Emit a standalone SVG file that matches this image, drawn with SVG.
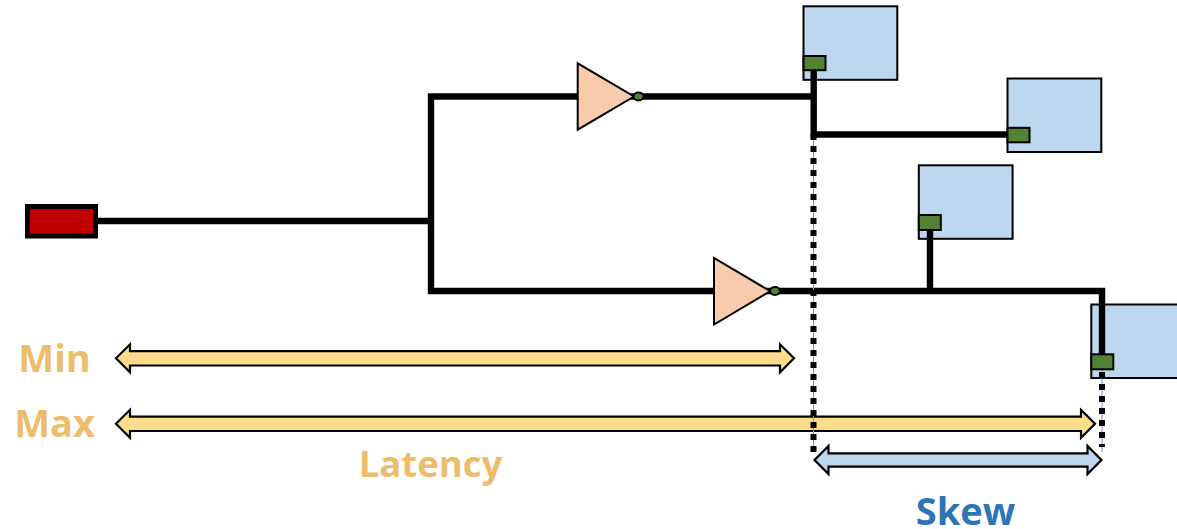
<svg xmlns="http://www.w3.org/2000/svg" width="1177" height="529" viewBox="0 0 1177 529">
<style>
.w{fill:none;stroke:#000;stroke-width:6.4}
.guide{fill:none;stroke:#6f94d6;stroke-width:1}
.box{fill:#bdd7ee;stroke:#000;stroke-width:2}
.pin{fill:#548235;stroke:#000;stroke-width:2}
.inv{fill:#f8cbad;stroke:#000;stroke-width:2}
.bub{fill:#548235;stroke:#000;stroke-width:2}
.arr{stroke:#000;stroke-width:2.2;stroke-linejoin:miter}
.lab{font-family:"Open Sans","Noto Sans",sans-serif;font-weight:700;font-size:38px;fill:#eebd6c;text-anchor:middle}
</style>
<g id="box1"><rect class="box" x="803.5" y="6.3" width="93.8" height="73.5"/></g>
<g id="box2"><rect class="box" x="1007.5" y="78.5" width="93.8" height="73.5"/></g>
<g id="box3"><rect class="box" x="918.8" y="165.3" width="93.8" height="73.5"/></g>
<g id="box4"><rect class="box" x="1091.3" y="304.5" width="93.8" height="73.5"/></g>
<g id="connectors">
<path class="w" d="M98 221H431M431 94V294M428 96.5H816.500M428 291H1105M813.700 70V137M813.700 134.500H1008M930 230V291M1102 288V356"/>
</g>
<g id="inverter1"><path class="inv" d="M577.700 63.300V129.700L634 96.500Z"/><ellipse class="bub" cx="638.500" cy="96.500" rx="5" ry="4"/></g>
<g id="inverter2"><path class="inv" d="M714 258V324.500L770.300 291.200Z"/><ellipse class="bub" cx="775" cy="291" rx="5" ry="4"/></g>
<g id="pin1"><rect class="pin" x="803.500" y="56" width="22" height="14.200"/></g>
<g id="pin2"><rect class="pin" x="1007.500" y="127.800" width="22" height="14.500"/></g>
<g id="pin3"><rect class="pin" x="918.800" y="215" width="22" height="15"/></g>
<g id="pin4"><rect class="pin" x="1091.300" y="354.300" width="22" height="15"/></g>
<g id="source"><rect x="27.500" y="206.500" width="68" height="29.500" fill="#c00000" stroke="#000" stroke-width="5"/></g>
<g id="minArrow"><path class="arr" fill="#ffdc8c" d="M116 358.300L130 344.300V351.200H780V344.300L794 358.300L780 372.300V365.500H130V372.300Z"/></g>
<g id="maxArrow"><path class="arr" fill="#ffdc8c" d="M116 423.800L130 409.800V416.700H1081V409.800L1095 423.800L1081 437.800V431H130V437.800Z"/></g>
<g id="skewArrow"><path class="arr" fill="#bdd7ee" d="M814.500 460L828.500 446V453.300H1087.500V446L1101.500 460L1087.500 474V466.700H828.500V474Z"/></g>
<g id="guides">
<path class="guide" d="M813.500 135V452M1102 370V452"/>
<path fill="none" stroke="#000" stroke-width="6" stroke-dasharray="6 6" d="M813.500 134V452"/>
<path fill="none" stroke="#000" stroke-width="6" stroke-dasharray="6 6" d="M1102 372V447"/>
</g>
<g id="labels">
<text class="lab" x="54.500" y="371.500">Min</text>
<text class="lab" x="54.500" y="436.500">Max</text>
<text class="lab" x="430.500" y="477" style="font-size:36.500px">Latency</text>
<text class="lab" x="965.500" y="524.500" style="fill:#2e75b6">Skew</text>
</g>
</svg>
